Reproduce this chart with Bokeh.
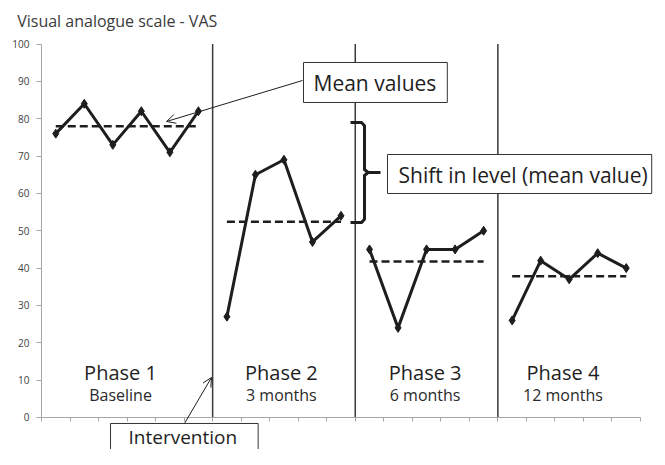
from bokeh.plotting import figure
from bokeh.models import Range1d, FixedTicker, Label, Arrow, OpenHead
from bokeh.core.properties import value
from bokeh.embed import file_html
from bokeh.resources import INLINE

# ---------------- data ----------------
title_text = "Visual analogue scale - VAS"
phase_names = ["Phase 1", "Phase 2", "Phase 3", "Phase 4"]
phase_subs = ["Baseline", "3 months", "6 months", "12 months"]
phase1 = [76, 84, 73, 82, 71, 82]
phase2 = [27, 65, 69, 47, 54]
phase3 = [45, 24, 45, 45, 50]
phase4 = [26, 42, 37, 44, 40]
phase_means = [78, 52.4, 41.8, 37.8]
y_ticks = [0, 10, 20, 30, 40, 50, 60, 70, 80, 90, 100]
phases = [phase1, phase2, phase3, phase4]

# ---------------- layout constants ----------------
n_cat = sum(len(ph) for ph in phases)
FONT = "Open Sans"
INK = "#1e1e1e"
AXIS = "#a6a6a6"

p = figure(width=657, height=449, output_backend="svg", toolbar_location=None,
           x_range=Range1d(-1.4374, 21.596), y_range=Range1d(-8.568, 111.65),
           min_border=0, min_border_left=0, min_border_right=0,
           min_border_top=0, min_border_bottom=0)
p.outline_line_color = None
p.xgrid.visible = False
p.ygrid.visible = False
p.background_fill_color = "white"
p.border_fill_color = "white"

# y axis (drawn at x = 0)
p.yaxis.fixed_location = 0
p.yaxis.ticker = FixedTicker(ticks=y_ticks)
p.yaxis.bounds = (0, 100)
p.yaxis.axis_line_color = AXIS
p.yaxis.major_tick_line_color = AXIS
p.yaxis.major_tick_out = 5
p.yaxis.major_tick_in = 0
p.yaxis.minor_tick_line_color = None
p.yaxis.major_label_text_font = FONT
p.yaxis.major_label_text_font_size = "10px"
p.yaxis.major_label_text_color = "#404040"
p.yaxis.major_label_standoff = 7

# x axis (category boundaries, no labels, drawn at y = 0)
xt = list(range(n_cat + 1))
p.xaxis.fixed_location = 0
p.xaxis.ticker = FixedTicker(ticks=xt)
p.xaxis.major_label_overrides = {t: "" for t in xt}
p.xaxis.bounds = (0, n_cat)
p.xaxis.axis_line_color = AXIS
p.xaxis.major_tick_line_color = AXIS
p.xaxis.major_tick_out = 4
p.xaxis.major_tick_in = 0
p.xaxis.minor_tick_line_color = None

# series, means, phase boundaries
start = 0
bounds = []
for k, ph in enumerate(phases):
    xs = [start + i + 0.5 for i in range(len(ph))]
    p.line(xs, ph, line_color=INK, line_width=3, line_join="round")
    p.scatter(xs, ph, marker="diamond", size=9, fill_color=INK, line_color=INK)
    p.line([xs[0], xs[-1]], [phase_means[k], phase_means[k]], line_color=INK,
           line_width=2.5, line_dash="8 4")
    start += len(ph)
    if k < len(phases) - 1:
        bounds.append(start)

p.segment(x0=bounds, y0=[0] * len(bounds), x1=bounds, y1=[100] * len(bounds),
          line_color="#3a3a3a", line_width=1.5)

# bracket showing shift in level
bx0, bx1, bx2 = 10.833, 11.324, 11.885
bt, bb = 79.0, 52.2
bm = (bt + bb) / 2
p.multi_line(xs=[[bx0, 11.22, bx1, bx1, 11.45, bx1, bx1, 11.22, bx0], [11.45, bx2]],
             ys=[[bt, bt, bt - 0.9, bm + 0.8, bm, bm - 0.8, bb + 0.9, bb, bb], [bm, bm]],
             line_color=INK, line_width=3, line_join="round")

# phase labels
label_x = [2.77, 8.41, 13.45, 18.28]
p.text(x=label_x, y=[12.05] * 4, text=phase_names, text_font=value(FONT),
       text_font_size="20px", text_color=INK, text_align="center",
       text_baseline="alphabetic")
p.text(x=label_x, y=[5.95] * 4, text=phase_subs, text_font=value(FONT),
       text_font_size="16px", text_color="#2a2a2a", text_align="center",
       text_baseline="alphabetic")

# title
p.add_layout(Label(x=-0.852, y=106.2, text=title_text, text_font=FONT,
                   text_font_size="16px", text_color="#3a3a3a",
                   text_align="left", text_baseline="alphabetic"))

# arrows
p.add_layout(Arrow(end=OpenHead(size=9, line_width=1, line_color=INK),
                   x_start=9.15, y_start=90.23, x_end=4.382, y_end=79.25,
                   line_color=INK, line_width=1))
p.add_layout(Arrow(end=OpenHead(size=9, line_width=1, line_color=INK),
                   x_start=5.013, y_start=-1.6, x_end=5.96, y_end=10.71,
                   line_color=INK, line_width=1))

# boxed annotations (anchored at the box's top-left corner)
box_kw = dict(text_font=FONT, text_font_size="21px", text_color=INK,
              anchor="top_left", text_align="left", text_baseline="top",
              background_fill_color="white", border_line_color="#333333",
              border_line_width=1)
p.add_layout(Label(x=9.185, y=95.05, text="Mean values",
                   padding=dict(left=10, right=11, top=7, bottom=5), **box_kw))
p.add_layout(Label(x=12.13, y=70.42, text="Shift in level (mean value)",
                   padding=dict(left=11, right=4, top=7, bottom=4), **box_kw))
box_kw["text_font_size"] = "19px"
p.add_layout(Label(x=2.42, y=-1.6, text="Intervention",
                   padding=dict(left=18, right=21, top=1, bottom=12), **box_kw))

open("out.html", "w").write(file_html(p, INLINE))
